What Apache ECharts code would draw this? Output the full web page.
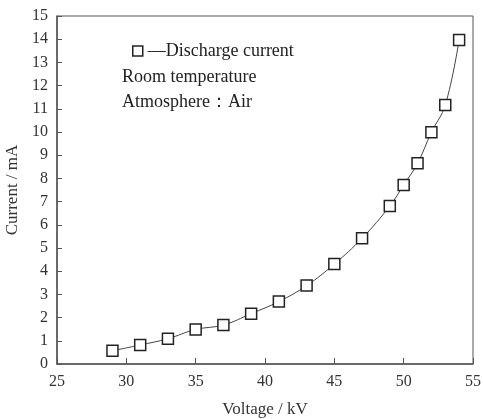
<!DOCTYPE html>
<html><head><meta charset="utf-8">
<script src="https://cdn.jsdelivr.net/npm/echarts@6/dist/echarts.min.js"></script>
<style>html,body{margin:0;padding:0;background:#fff}#c{width:483px;height:419px}</style>
</head><body><div id="c"></div>
<script>
const voltage = [29, 31, 33, 35, 37, 39, 41, 43, 45, 47, 49, 50, 51, 52, 53, 54];
const current = [0.57, 0.82, 1.09, 1.49, 1.68, 2.17, 2.69, 3.38, 4.31, 5.42, 6.81, 7.72, 8.65, 9.99, 11.16, 13.97];
const seriesName = 'Discharge current';
const noteLines = ['Room temperature', 'Atmosphere：Air'];
const font = '"Liberation Serif", "DejaVu Serif", serif';
const chart = echarts.init(document.getElementById('c'));
chart.setOption({
  animation: false,
  grid: { left: 57, right: 10, top: 16, bottom: 55, show: true, borderColor: '#555', borderWidth: 1, outerBoundsMode: 'none', containLabel: false },
  legend: {
    left: 132, top: 42, padding: 0, icon: 'rect', itemWidth: 10, itemHeight: 10, itemGap: 4,
    data: [{ name: seriesName, itemStyle: { color: '#fff', borderColor: '#222', borderWidth: 1.5 } }],
    formatter: n => '—' + n,
    textStyle: { fontFamily: font, fontSize: 18, color: '#222' }
  },
  graphic: noteLines.map((t, i) => ({
    type: 'text', left: 122, top: 68 + i * 25,
    style: { text: t, font: '18px ' + font, fill: '#222' }
  })),
  xAxis: {
    type: 'value', min: 25, max: 55, interval: 5,
    name: 'Voltage / kV', nameLocation: 'middle', nameGap: 37,
    nameTextStyle: { fontFamily: font, fontSize: 17, color: '#333' },
    axisLine: { lineStyle: { color: '#555', width: 1.5 } },
    axisTick: { inside: true, length: 6, lineStyle: { color: '#555' } },
    axisLabel: { fontFamily: font, fontSize: 16, color: '#333', margin: 10 },
    splitLine: { show: false }
  },
  yAxis: {
    type: 'value', min: 0, max: 15, interval: 1,
    name: 'Current / mA', nameLocation: 'middle', nameGap: 34,
    nameTextStyle: { fontFamily: font, fontSize: 17, color: '#333' },
    axisLine: { lineStyle: { color: '#555', width: 1.5 } },
    axisTick: { inside: true, length: 5, lineStyle: { color: '#555' } },
    axisLabel: { fontFamily: font, fontSize: 16, color: '#333', margin: 9 },
    splitLine: { show: false }
  },
  series: [{
    name: seriesName, type: 'line', smooth: 0.4,
    data: voltage.map((v, i) => [v, current[i]]),
    symbol: 'rect', symbolSize: 11,
    itemStyle: { color: '#fff', borderColor: '#222', borderWidth: 1.5 },
    lineStyle: { color: '#444', width: 1 }
  }]
});
</script></body></html>
